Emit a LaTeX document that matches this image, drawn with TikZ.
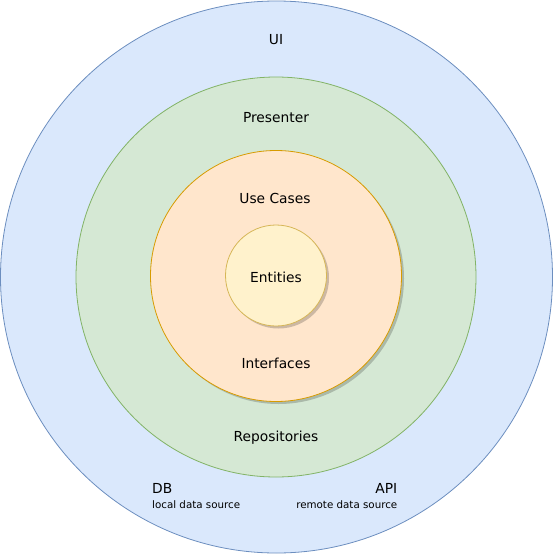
\documentclass[tikz,border=0pt]{standalone}
\usepackage{fontspec}
\setmainfont{DejaVu Sans}
\usetikzlibrary{shadows}
\definecolor{uiFill}{HTML}{DAE8FC}
\definecolor{uiLine}{HTML}{6C8EBF}
\definecolor{prFill}{HTML}{D5E8D4}
\definecolor{prLine}{HTML}{82B366}
\definecolor{ucFill}{HTML}{FFE6CC}
\definecolor{ucLine}{HTML}{D79B00}
\definecolor{enFill}{HTML}{FFF2CC}
\definecolor{enLine}{HTML}{D6B656}
\tikzset{
  ring/.style={circle, draw, line width=0.8pt, inner sep=0pt},
  soft shadow/.style={drop shadow={shadow xshift=2.5pt, shadow yshift=-2.5pt, fill=black, opacity=0.2}},
  lbl/.style={font=\fontsize{13.8}{16}\selectfont, inner sep=0pt},
  sublbl/.style={font=\fontsize{10.3}{12}\selectfont, inner sep=0pt},
}
\begin{document}
\begin{tikzpicture}[x=1pt, y=-1pt]
  \useasboundingbox (0,0) rectangle (553,554);
  % concentric layers
  \node[ring, fill=uiFill, draw=uiLine, minimum size=552pt] (ui) at (276.5,277) {};
  \node[ring, fill=prFill, draw=prLine, minimum size=400pt] (pr) at (276,277) {};
  \node[ring, fill=ucFill, draw=ucLine, minimum size=251pt, soft shadow] (uc) at (276,276) {};
  \node[ring, fill=enFill, draw=enLine, minimum size=101pt, soft shadow] (en) at (276,275.5) {};
  % layer labels
  \node[lbl] (tUI) at (276,40) {UI};
  \node[lbl] (tPr) at (276,118) {Presenter};
  \node[lbl] (tUC) at (275,198) {Use Cases};
  \node[lbl] (tEn) at (276,277) {Entities};
  \node[lbl] (tIf) at (276,363) {Interfaces};
  \node[lbl] (tRe) at (276,438) {Repositories};
  % data sources
  \node[lbl, anchor=west] (tDB) at (152,488) {DB};
  \node[sublbl, anchor=west] (tLoc) at (152,505) {local data source};
  \node[lbl, anchor=east] (tAPI) at (397.5,488) {API};
  \node[sublbl, anchor=east] (tRem) at (397.5,505) {remote data source};
\end{tikzpicture}
\end{document}
